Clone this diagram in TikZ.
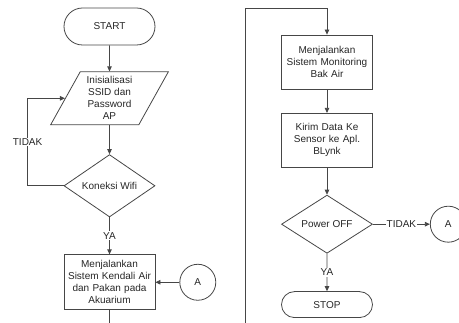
\documentclass[tikz,border=0pt]{standalone}
\usepackage{fontspec}
\setmainfont{Liberation Sans}
\usetikzlibrary{arrows.meta, positioning, shapes.geometric, shapes.misc}

\definecolor{lineC}{RGB}{70, 70, 70}

\begin{document}
\begin{tikzpicture}[
    x=1pt, y=-1pt,
    every node/.style={font=\fontsize{10}{12}\selectfont, text=black!85},
    term/.style={rounded rectangle, draw=lineC, line width=0.8pt, minimum width=91pt,
                 inner sep=0pt},
    proc/.style={rectangle, draw=lineC, line width=0.8pt, minimum width=91pt,
                 minimum height=54pt, text width=89pt, align=center, inner sep=0pt},
    io/.style={trapezium, trapezium left angle=62, trapezium right angle=118,
               trapezium stretches=true, draw=lineC, line width=0.8pt,
               minimum width=118pt, minimum height=53pt, align=center, inner sep=0pt},
    decision/.style={diamond, draw=lineC, line width=0.8pt, minimum width=91pt,
                     minimum height=52pt, inner sep=0pt},
    conn/.style={circle, draw=lineC, line width=0.8pt, minimum size=36pt, inner sep=0pt},
    arrow/.style={-{Triangle[length=5pt, width=4.5pt]}, line width=0.8pt, lineC},
    line/.style={line width=0.8pt, lineC},
    lbl/.style={fill=white, inner sep=1pt}
  ]
    \useasboundingbox (0,0) rectangle (459,323);

    % Left column
    \node[term, minimum height=37pt] (start) at (109.5,26.5) {START};
    \node[io, below=26pt of start] (init) {Inisialisasi\\SSID dan\\Password\\AP};
    \node[decision, below=29pt of init] (wifi) {Koneksi Wifi};
    \node[proc, minimum height=55pt, below=37pt of wifi] (kendali)
      {Menjalankan\\Sistem Kendali Air\\dan Pakan pada\\Akuarium};
    \node[conn, right=24pt of kendali] (conA1) {A};

    % Right column
    \node[proc] (monitor) at (327,62) {Menjalankan\\Sistem Monitoring\\Bak Air};
    \node[proc, below=23.5pt of monitor] (kirim) {Kirim Data Ke\\Sensor ke Apl.\\BLynk};
    \node[decision, below=27pt of kirim] (power) {Power OFF};
    \node[term, minimum height=26pt, below=37.5pt of power] (stop) {STOP};
    \node[conn, right=57pt of power] (conA2) {A};

    % Free ends of the page connector
    \coordinate (down) at (kendali.south |- 0,323);
    \coordinate (up) at (245,323);
    \coordinate (top) at (245,8);

    % Arrows
    \draw[arrow] (start) -- (init);
    \draw[arrow] (init) -- (wifi);
    \draw[arrow] (wifi) -- node[lbl] {YA} (kendali);
    \draw[arrow] (wifi.west) -- ++(-36,0) |- node[lbl, pos=0.25] {TIDAK} (init);
    \draw[arrow] (conA1) -- (kendali);
    \draw[line] (kendali) -- (down);
    \draw[arrow] (up) -- (top) -| (monitor);
    \draw[arrow] (monitor) -- (kirim);
    \draw[arrow] (kirim) -- (power);
    \draw[arrow] (power) -- node[lbl] {YA} (stop);
    \draw[arrow] (power) -- node[lbl] {TIDAK} (conA2);
  \end{tikzpicture}
\end{document}
